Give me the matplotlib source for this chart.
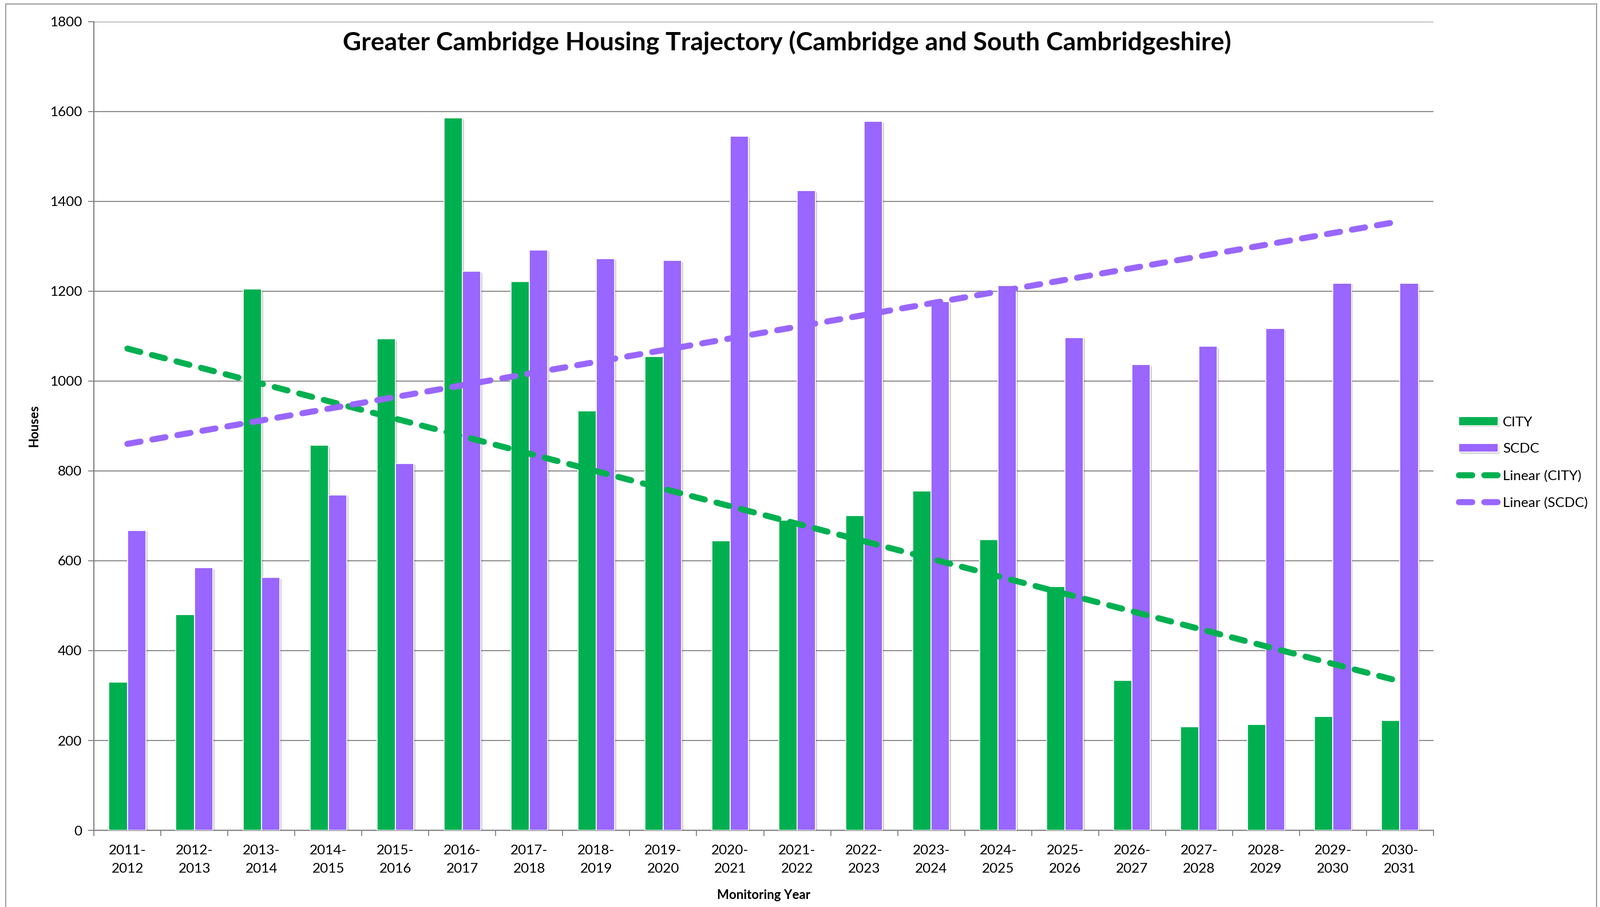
import matplotlib

matplotlib.use("Agg")

import matplotlib.pyplot as plt
import matplotlib.patheffects as pe
import numpy as np
from matplotlib.patches import Rectangle

plt.rcParams["font.family"] = ["Lato", "DejaVu Sans"]

# data
years = [
    "2011-\n2012", "2012-\n2013", "2013-\n2014", "2014-\n2015", "2015-\n2016",
    "2016-\n2017", "2017-\n2018", "2018-\n2019", "2019-\n2020", "2020-\n2021",
    "2021-\n2022", "2022-\n2023", "2023-\n2024", "2024-\n2025", "2025-\n2026",
    "2026-\n2027", "2027-\n2028", "2028-\n2029", "2029-\n2030", "2030-\n2031",
]
city = [330, 480, 1205, 857, 1094, 1586, 1222, 933, 1054, 644,
        691, 700, 755, 647, 543, 334, 231, 236, 253, 244]
scdc = [668, 585, 563, 747, 817, 1244, 1292, 1273, 1268, 1545,
        1424, 1578, 1177, 1212, 1097, 1037, 1077, 1117, 1218, 1218]
y_ticks = [0, 200, 400, 600, 800, 1000, 1200, 1400, 1600, 1800]

GREEN = "#00B050"
PURPLE = "#9966FF"
GRID = "#868686"

fig = plt.figure(figsize=(27.96, 15.85), dpi=100)
ax = fig.add_axes([0.0587, 0.0845, 0.8372, 0.8917])

x = np.arange(len(years))
bw = 0.275
shadow = [pe.SimplePatchShadow(offset=(2, -2), shadow_rgbFace="black", alpha=0.18), pe.Normal()]
b1 = ax.bar(x - bw / 2, city, width=bw, color=GREEN, edgecolor="white", linewidth=1.2,
            label="CITY", zorder=3)
b2 = ax.bar(x + bw / 2, scdc, width=bw, color=PURPLE, edgecolor="white", linewidth=1.2,
            label="SCDC", zorder=3)
for bar in list(b1) + list(b2):
    bar.set_path_effects(shadow)

# linear trend lines, like the spreadsheet's trendline option
xs = x + 1
for vals, col, name in [(city, GREEN, "Linear (CITY)"), (scdc, PURPLE, "Linear (SCDC)")]:
    k, c = np.polyfit(xs, vals, 1)
    ax.plot(x, k * xs + c, color=col, linewidth=7.6, dashes=(2.2, 2.0),
            dash_capstyle="round", solid_capstyle="round", label=name, zorder=4)

ax.set_xlim(-0.5, len(years) - 0.5)
ax.set_ylim(0, 1800)
ax.set_yticks(y_ticks)
ax.set_xticks(x, labels=years)
ax.set_xticks(np.arange(-0.5, len(years)), minor=True)
ax.tick_params(axis="x", which="major", length=0, pad=18, labelsize=17.5)
ax.tick_params(axis="x", which="minor", length=7, width=1.3, color=GRID)
ax.tick_params(axis="y", length=7, width=1.3, color=GRID, labelsize=17.5, pad=8)
for lbl in ax.get_xticklabels():
    lbl.set_linespacing(1.65)

ax.grid(axis="y", color=GRID, linewidth=1.3, zorder=0)
ax.set_axisbelow(True)
for side in ["top", "right"]:
    ax.spines[side].set_visible(False)
for side in ["left", "bottom"]:
    ax.spines[side].set_color(GRID)
    ax.spines[side].set_linewidth(1.6)

ax.set_ylabel("Houses", fontsize=16, fontweight="bold", labelpad=12)
ax.set_xlabel("Monitoring Year", fontsize=16, fontweight="bold", labelpad=18)

fig.text(0.4918, 0.953, "Greater Cambridge Housing Trajectory (Cambridge and South Cambridgeshire)",
         ha="center", va="center", fontsize=32, fontweight="bold")

fig.legend(handles=[b1, b2] + ax.get_lines(), loc="center left",
           bbox_to_anchor=(0.904, 0.49), frameon=False, fontsize=17.5,
           handlelength=2.8, handleheight=0.6, labelspacing=1.05, handletextpad=0.35)

# outer chart border
fig.add_artist(Rectangle((10 / 2796, -0.05), 2780 / 2796, 1.05 - 7 / 1585,
                         transform=fig.transFigure, fill=False, edgecolor="#A0A0A0",
                         linewidth=1.5))

fig.savefig("out.png", dpi=100)
